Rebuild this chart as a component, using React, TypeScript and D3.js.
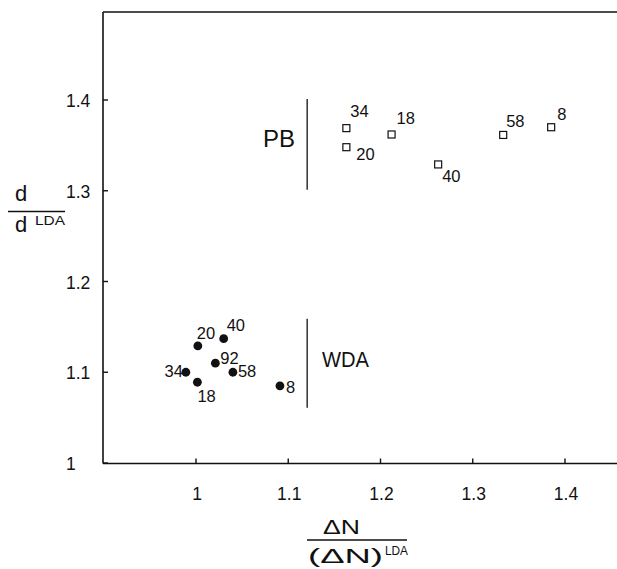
import React from "react";
import * as d3 from "d3";

const xTicks = [1, 1.1, 1.2, 1.3, 1.4];
const yTicks = [1, 1.1, 1.2, 1.3, 1.4];

const wdaLabels = ["20", "40", "92", "34", "58", "18", "8"];
const wdaX = [1.002, 1.030, 1.021, 0.989, 1.040, 1.0015, 1.091];
const wdaY = [1.129, 1.137, 1.110, 1.100, 1.100, 1.089, 1.085];
// label offsets (px) relative to marker, [dx, dy, anchor]
const wdaLabelOffsets: [number, number, string][] = [
  [-1, -7, "start"],
  [3, -8, "start"],
  [5, 1, "start"],
  [-3, 5, "end"],
  [5, 5, "start"],
  [0, 20, "start"],
  [6, 7, "start"],
];

const pbLabels = ["34", "20", "18", "40", "58", "8"];
const pbX = [1.163, 1.163, 1.212, 1.2625, 1.333, 1.385];
const pbY = [1.369, 1.348, 1.362, 1.329, 1.3615, 1.37];
const pbLabelOffsets: [number, number, string][] = [
  [4, -11, "start"],
  [10, 13, "start"],
  [5, -10, "start"],
  [4, 18, "start"],
  [3, -8, "start"],
  [6, -7, "start"],
];

// group separator lines: [x, y0, y1]
const pbSeparator = [1.1205, 1.301, 1.401];
const wdaSeparator = [1.1205, 1.061, 1.159];

const W = 617;
const H = 569;
const FONT = "'Liberation Sans', Arial, sans-serif";
const INK = "#111";

export default function App() {
  const x = d3.scaleLinear().domain([1, 1.4]).range([196, 565]);
  const y = d3.scaleLinear().domain([1, 1.4]).range([463, 100]);
  const left = 103;
  const top = 12;
  const bottom = 463.5;
  const tick = 5;

  return (
    <svg
      width={W}
      height={H}
      style={{ position: "absolute", left: 0, top: 0, background: "#fff" }}
      fontFamily={FONT}
    >
      <rect x={0} y={0} width={W} height={H} fill="#fff" />
      {/* frame */}
      <line x1={left} y1={top} x2={W} y2={top} stroke={INK} strokeWidth={1.6} />
      <line x1={left} y1={top} x2={left} y2={bottom} stroke={INK} strokeWidth={1.6} />
      <line x1={left} y1={bottom} x2={W} y2={bottom} stroke={INK} strokeWidth={1.6} />

      {/* x ticks */}
      {xTicks.map((t) => (
        <g key={"x" + t}>
          <line x1={x(t)} x2={x(t)} y1={bottom} y2={bottom - tick} stroke={INK} strokeWidth={1.4} />
          <text x={x(t) + 1} y={500} fontSize={17.5} textAnchor="middle" fill={INK}>
            {d3.format("")(t)}
          </text>
        </g>
      ))}
      {/* y ticks */}
      {yTicks.map((t) => (
        <g key={"y" + t}>
          <line x1={left} x2={left + tick} y1={y(t)} y2={y(t)} stroke={INK} strokeWidth={1.4} />
          <text x={66} y={y(t) + 7} fontSize={17.5} textAnchor="start" fill={INK}>
            {d3.format("")(t)}
          </text>
        </g>
      ))}

      {/* separators */}
      <line x1={x(pbSeparator[0])} x2={x(pbSeparator[0])} y1={y(pbSeparator[1])} y2={y(pbSeparator[2])} stroke={INK} strokeWidth={1.3} />
      <line x1={x(wdaSeparator[0])} x2={x(wdaSeparator[0])} y1={y(wdaSeparator[1])} y2={y(wdaSeparator[2])} stroke={INK} strokeWidth={1.3} />
      <text x={263} y={147} fontSize={23} fill={INK} textLength={32} lengthAdjust="spacingAndGlyphs">PB</text>
      <text x={322} y={367} fontSize={22} fill={INK} textLength={47} lengthAdjust="spacingAndGlyphs">WDA</text>

      {/* WDA points */}
      {wdaX.map((v, i) => (
        <g key={"w" + i}>
          <circle cx={x(v)} cy={y(wdaY[i])} r={4.4} fill={INK} />
          <text
            x={x(v) + wdaLabelOffsets[i][0]}
            y={y(wdaY[i]) + wdaLabelOffsets[i][1]}
            textAnchor={wdaLabelOffsets[i][2]}
            fontSize={16.5}
            fill={INK}
          >
            {wdaLabels[i]}
          </text>
        </g>
      ))}

      {/* PB points */}
      {pbX.map((v, i) => (
        <g key={"p" + i}>
          <rect x={x(v) - 3.5} y={y(pbY[i]) - 3.5} width={7} height={7} fill="#fff" stroke={INK} strokeWidth={1.2} />
          <text
            x={x(v) + pbLabelOffsets[i][0]}
            y={y(pbY[i]) + pbLabelOffsets[i][1]}
            textAnchor={pbLabelOffsets[i][2]}
            fontSize={16.5}
            fill={INK}
          >
            {pbLabels[i]}
          </text>
        </g>
      ))}

      {/* y axis label */}
      <text x={15} y={201} fontSize={22} fill={INK}>d</text>
      <line x1={8} x2={65} y1={211.5} y2={211.5} stroke={INK} strokeWidth={1.5} />
      <text x={15} y={232} fontSize={22} fill={INK}>d</text>
      <text x={35} y={225} fontSize={13.5} fill={INK} textLength={30} lengthAdjust="spacingAndGlyphs">LDA</text>

      {/* x axis label */}
      <text x={323} y={534} fontSize={20} fill={INK} textLength={37} lengthAdjust="spacingAndGlyphs">ΔN</text>
      <line x1={307} x2={407} y1={540} y2={540} stroke={INK} strokeWidth={1.5} />
      <text x={308} y={563} fontSize={20} fill={INK} textLength={75} lengthAdjust="spacingAndGlyphs">(ΔN)</text>
      <text x={385} y={555} fontSize={13.5} fill={INK} textLength={23} lengthAdjust="spacingAndGlyphs">LDA</text>
    </svg>
  );
}
